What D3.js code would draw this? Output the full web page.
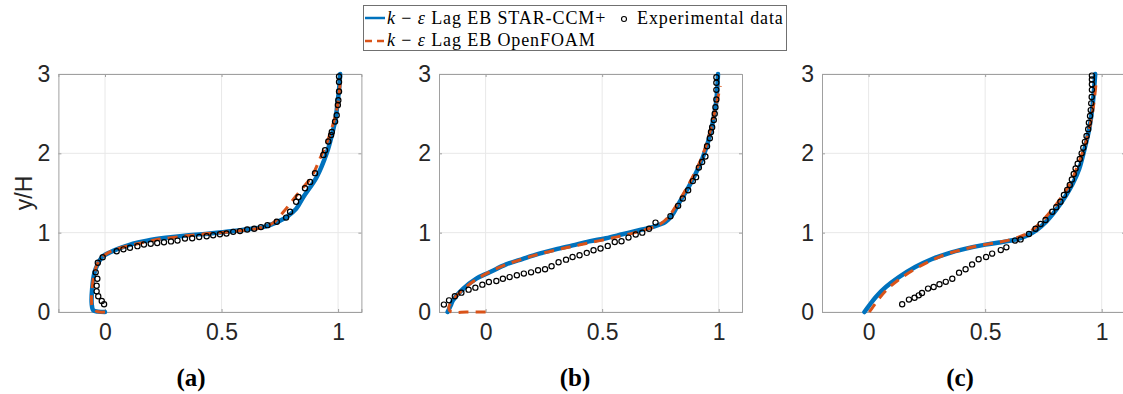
<!DOCTYPE html>
<html>
<head>
<meta charset="utf-8">
<script src="https://cdn.jsdelivr.net/npm/d3@7"></script>
<style>
  body { margin: 0; background: #fff; }
  svg { display: block; }
</style>
</head>
<body>
<svg id="chart" width="1123" height="394"></svg>
<script>
// ---- data: [U/Ub, y/H] ----
const xTicks = [0, 0.5, 1];
const yTicks = [0, 1, 2, 3];
const panelLabels = ["(a)", "(b)", "(c)"];

const starA = [[0,0],[-0.03,0.005],[-0.05,0.02],[-0.057,0.1],[-0.055,0.3],[-0.045,0.5],[-0.032,0.6],[-0.01,0.7],[0.02,0.75],[0.05,0.79],[0.08,0.82],[0.12,0.86],[0.18,0.9],[0.26,0.935],[0.35,0.965],[0.45,0.99],[0.55,1.02],[0.63,1.05],[0.69,1.08],[0.72,1.11],[0.78,1.2],[0.82,1.3],[0.851,1.45],[0.908,1.7],[0.951,2.0],[0.975,2.25],[0.99,2.45],[0.998,2.65],[1.004,2.8],[1.009,3.0]];
const foamA = [[0,0],[-0.03,0.003],[-0.052,0.04],[-0.058,0.15],[-0.055,0.3],[-0.045,0.5],[-0.03,0.62],[-0.005,0.71],[0.03,0.77],[0.08,0.82],[0.14,0.86],[0.22,0.91],[0.32,0.95],[0.43,0.985],[0.55,1.015],[0.65,1.05],[0.69,1.08],[0.72,1.12],[0.765,1.26],[0.823,1.475],[0.887,1.71],[0.923,1.94],[0.96,2.2],[0.994,2.55],[1.006,2.8],[1.01,2.95]];
const expA = [[-0.004,0.097],[-0.014,0.139],[-0.029,0.198],[-0.036,0.26],[-0.036,0.33],[-0.033,0.42],[-0.04,0.5],[-0.031,0.62],[-0.01,0.69],[0.05,0.765],[0.079,0.79],[0.107,0.81],[0.139,0.83],[0.167,0.85],[0.196,0.86],[0.224,0.87],[0.253,0.88],[0.283,0.89],[0.311,0.9],[0.343,0.925],[0.374,0.93],[0.404,0.945],[0.436,0.955],[0.464,0.967],[0.493,0.98],[0.521,0.99],[0.55,1.01],[0.579,1.02],[0.61,1.04],[0.64,1.05],[0.669,1.07],[0.697,1.095],[0.737,1.138],[0.777,1.19],[0.794,1.264],[0.82,1.39],[0.83,1.45],[0.858,1.56],[0.88,1.64],[0.901,1.75],[0.937,1.98],[0.944,2.04],[0.958,2.15],[0.97,2.23],[0.973,2.27],[0.987,2.4],[0.994,2.48],[0.999,2.61],[1.001,2.67],[1.004,2.78],[1.004,2.9],[1.004,2.97]];

const starB = [[-0.163,0],[-0.15,0.08],[-0.14,0.147],[-0.097,0.29],[-0.04,0.42],[0.017,0.5],[0.088,0.6],[0.16,0.67],[0.23,0.735],[0.3,0.79],[0.373,0.84],[0.444,0.89],[0.516,0.93],[0.587,0.98],[0.658,1.03],[0.715,1.07],[0.772,1.135],[0.8,1.22],[0.829,1.37],[0.872,1.58],[0.915,1.83],[0.943,2.04],[0.964,2.25],[0.979,2.46],[0.99,2.67],[0.997,3.0]];
const foamB = [[0,0],[-0.08,0.0],[-0.15,0.005],[-0.158,0.06],[-0.135,0.17],[-0.09,0.3],[-0.035,0.42],[0.02,0.51],[0.09,0.6],[0.17,0.68],[0.25,0.745],[0.33,0.8],[0.41,0.85],[0.49,0.9],[0.57,0.95],[0.64,1.0],[0.7,1.05],[0.75,1.11],[0.785,1.2],[0.815,1.33],[0.86,1.55],[0.905,1.8],[0.94,2.05],[0.965,2.3],[0.985,2.55],[1.0,2.75],[1.007,2.85]];
const expB = [[-0.179,0.093],[-0.157,0.147],[-0.132,0.198],[-0.104,0.244],[-0.073,0.282],[-0.044,0.307],[-0.014,0.345],[0.014,0.379],[0.046,0.391],[0.074,0.42],[0.103,0.44],[0.134,0.463],[0.164,0.484],[0.195,0.5],[0.225,0.526],[0.255,0.538],[0.283,0.576],[0.313,0.627],[0.345,0.66],[0.373,0.694],[0.403,0.715],[0.434,0.745],[0.463,0.778],[0.493,0.8],[0.524,0.833],[0.554,0.883],[0.583,0.892],[0.613,0.938],[0.644,0.976],[0.672,1.0],[0.701,1.05],[0.729,1.127],[0.793,1.207],[0.826,1.338],[0.846,1.43],[0.869,1.535],[0.889,1.65],[0.903,1.7],[0.915,1.82],[0.929,1.89],[0.943,1.96],[0.95,2.09],[0.962,2.19],[0.967,2.27],[0.972,2.33],[0.979,2.42],[0.983,2.5],[0.986,2.58],[0.99,2.68],[0.99,2.8],[0.99,2.89],[0.99,2.96]];

const starC = [[-0.018,0],[0.003,0.084],[0.031,0.19],[0.074,0.315],[0.13,0.44],[0.2,0.568],[0.27,0.665],[0.342,0.74],[0.413,0.795],[0.484,0.84],[0.56,0.875],[0.633,0.915],[0.676,0.96],[0.719,1.03],[0.762,1.14],[0.805,1.29],[0.848,1.475],[0.876,1.62],[0.903,1.8],[0.926,2.05],[0.946,2.3],[0.959,2.55],[0.967,2.8],[0.972,3.0]];
const foamC = [[0.003,0],[0.02,0.07],[0.045,0.17],[0.085,0.3],[0.14,0.43],[0.21,0.56],[0.28,0.665],[0.35,0.745],[0.42,0.8],[0.49,0.845],[0.56,0.88],[0.625,0.925],[0.67,0.975],[0.705,1.04],[0.745,1.15],[0.79,1.3],[0.835,1.48],[0.87,1.65],[0.9,1.87],[0.928,2.1],[0.95,2.35],[0.965,2.6],[0.975,2.86]];
const expC = [[0.144,0.097],[0.173,0.156],[0.197,0.18],[0.215,0.21],[0.229,0.24],[0.255,0.295],[0.279,0.315],[0.304,0.35],[0.331,0.38],[0.359,0.42],[0.388,0.496],[0.416,0.538],[0.444,0.6],[0.472,0.665],[0.504,0.694],[0.53,0.736],[0.567,0.78],[0.591,0.815],[0.628,0.9],[0.652,0.915],[0.688,0.983],[0.716,1.05],[0.738,1.11],[0.759,1.16],[0.788,1.264],[0.805,1.32],[0.823,1.39],[0.838,1.475],[0.852,1.54],[0.863,1.6],[0.872,1.67],[0.88,1.74],[0.888,1.81],[0.897,1.87],[0.906,1.93],[0.914,2.0],[0.921,2.07],[0.928,2.145],[0.935,2.22],[0.942,2.305],[0.945,2.385],[0.95,2.47],[0.953,2.545],[0.955,2.63],[0.957,2.71],[0.958,2.8],[0.958,2.87],[0.958,2.93],[0.958,2.98]];

const panels = [
  { star: starA, foam: foamA, exp: expA, x0: 58.4, labelX: 191 },
  { star: starB, foam: foamB, exp: expB, x0: 439, labelX: 575 },
  { star: starC, foam: foamC, exp: expC, x0: 822, labelX: 960 }
];

const blue = "#0072BD", orange = "#D95319";
const axisColor = "#a0a0a0", gridColor = "#e8e8e8", textColor = "#262626";
const panelW = 303, plotTop = 74, plotBottom = 312;

const svg = d3.select("#chart");

panels.forEach((p, i) => {
  const x = d3.scaleLinear().domain([-0.2, 1.1]).range([p.x0, p.x0 + panelW]);
  const y = d3.scaleLinear().domain([0, 3]).range([plotBottom, plotTop]);
  const g = svg.append("g");

  // grid
  g.selectAll(".gx").data(xTicks).join("line")
    .attr("class", "gx")
    .attr("x1", d => x(d)).attr("x2", d => x(d))
    .attr("y1", plotTop).attr("y2", plotBottom)
    .attr("stroke", gridColor).attr("stroke-width", 1);
  g.selectAll(".gy").data(yTicks).join("line")
    .attr("class", "gy")
    .attr("x1", p.x0).attr("x2", p.x0 + panelW)
    .attr("y1", d => y(d)).attr("y2", d => y(d))
    .attr("stroke", gridColor).attr("stroke-width", 1);

  // axes (box with inward ticks)
  const xAxis = d3.axisBottom(x).tickValues(xTicks).tickFormat(d3.format("")).tickSize(-3).tickPadding(12);
  const yAxis = d3.axisLeft(y).tickValues(yTicks).tickFormat(d3.format("d")).tickSize(-3).tickPadding(8);
  const xTop = d3.axisTop(x).tickValues(xTicks).tickFormat("").tickSize(-3);
  const yRight = d3.axisRight(y).tickValues(yTicks).tickFormat("").tickSize(-3);

  [
    [xAxis, `translate(0,${plotBottom})`],
    [yAxis, `translate(${p.x0},0)`],
    [xTop, `translate(0,${plotTop})`],
    [yRight, `translate(${p.x0 + panelW},0)`]
  ].forEach(([ax, tr]) => {
    const a = g.append("g").attr("transform", tr).call(ax);
    a.select(".domain").attr("stroke", axisColor);
    a.selectAll(".tick line").attr("stroke", axisColor);
    a.selectAll(".tick text")
      .attr("fill", textColor)
      .attr("font-family", "Liberation Sans, Arial, sans-serif")
      .attr("font-size", 23);
  });

  const line = d3.line()
    .x(d => x(d[0])).y(d => y(d[1]))
    .curve(d3.curveCatmullRom);

  g.append("path").datum(p.star)
    .attr("fill", "none").attr("stroke", blue)
    .attr("stroke-width", 4.5).attr("stroke-linejoin", "round").attr("stroke-linecap", "round")
    .attr("d", line);

  g.append("path").datum(p.foam)
    .attr("fill", "none").attr("stroke", orange)
    .attr("stroke-width", 3).attr("stroke-dasharray", "10,7")
    .attr("d", line);

  g.selectAll(".exp").data(p.exp).join("circle")
    .attr("class", "exp")
    .attr("cx", d => x(d[0])).attr("cy", d => y(d[1])).attr("r", 2.6)
    .attr("fill", "none").attr("stroke", "#000").attr("stroke-width", 1.2);

  svg.append("text")
    .attr("x", p.labelX).attr("y", 386)
    .attr("text-anchor", "middle")
    .attr("font-family", "Liberation Serif, DejaVu Serif, serif")
    .attr("font-weight", "bold").attr("font-size", 25)
    .attr("fill", "#000")
    .text(panelLabels[i]);
});

// y label
svg.append("text")
  .attr("transform", `translate(32,${(plotTop + plotBottom) / 2}) rotate(-90)`)
  .attr("text-anchor", "middle")
  .attr("font-family", "Liberation Sans, Arial, sans-serif")
  .attr("font-size", 23).attr("fill", textColor)
  .text("y/H");

// legend
const lg = svg.append("g");
lg.append("rect").attr("x", 363.5).attr("y", 5.5).attr("width", 423).attr("height", 45)
  .attr("fill", "#fff").attr("stroke", "#707070").attr("stroke-width", 1);
lg.append("line").attr("x1", 365).attr("x2", 385).attr("y1", 18).attr("y2", 18)
  .attr("stroke", blue).attr("stroke-width", 2.5);
lg.append("line").attr("x1", 365).attr("x2", 386).attr("y1", 41).attr("y2", 41)
  .attr("stroke", orange).attr("stroke-width", 2.5).attr("stroke-dasharray", "7,5");
lg.append("circle").attr("cx", 624).attr("cy", 19).attr("r", 2.5)
  .attr("fill", "none").attr("stroke", "#000").attr("stroke-width", 1.1);

const legendFont = "Liberation Serif, DejaVu Serif, serif";
const legendRows = [
  { y: 24, x: 387, rest: " Lag EB STAR-CCM+" },
  { y: 46, x: 387, rest: " Lag EB OpenFOAM" }
];
legendRows.forEach(r => {
  const t = lg.append("text").attr("x", r.x).attr("y", r.y)
    .attr("font-family", legendFont)
    .attr("font-size", 18).attr("letter-spacing", 0.9).attr("fill", "#000");
  t.append("tspan").attr("font-style", "italic").text("k");
  t.append("tspan").text(" \u2212 ");
  t.append("tspan").attr("font-style", "italic").text("\u03b5");
  t.append("tspan").text(r.rest);
});
lg.append("text").attr("x", 637).attr("y", 24)
  .attr("font-family", legendFont)
  .attr("font-size", 18).attr("letter-spacing", 0.9).attr("fill", "#000")
  .text("Experimental data");
</script>
</body>
</html>
